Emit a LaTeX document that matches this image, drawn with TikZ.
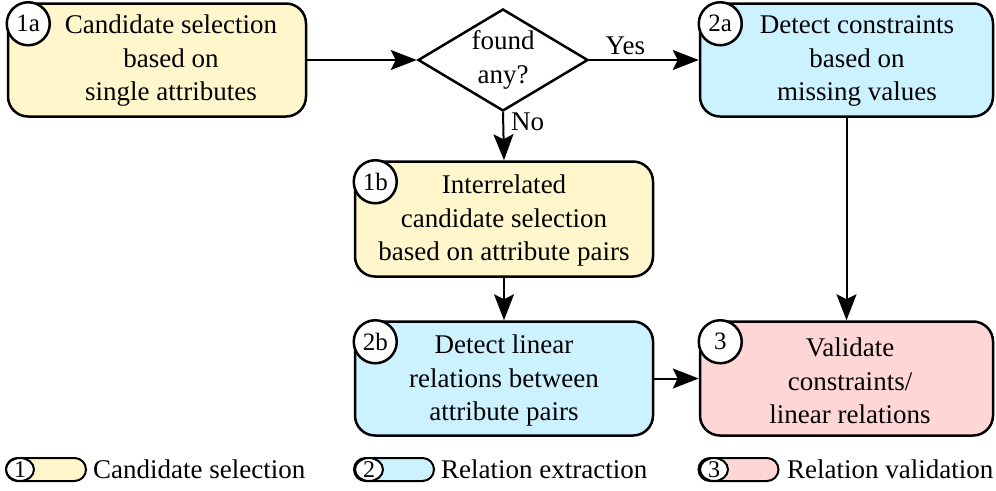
\documentclass[tikz,border=0pt]{standalone}
\usepackage{fontspec}
\setmainfont{Liberation Serif}
\usetikzlibrary{shapes.geometric,arrows.meta,calc}
\definecolor{selyellow}{RGB}{255,246,204}
\definecolor{extblue}{RGB}{204,242,255}
\definecolor{valred}{RGB}{255,214,214}
\begin{document}
\begin{tikzpicture}[x=1pt,y=-1pt,
  every node/.style={font=\fontsize{27}{33.5}\selectfont},
  stepbox/.style={draw, line width=2.5pt, rounded corners=20pt, inner sep=0pt},
  steptext/.style={align=center, inner sep=0pt},
  badge/.style={draw, circle, fill=white, line width=2.5pt, minimum size=43pt,
    inner sep=0pt, font=\fontsize{25}{30}\selectfont},
  flow/.style={line width=2pt, -{Stealth[length=26pt,width=20pt,inset=5pt]}},
  decision/.style={draw, diamond, line width=2.5pt, aspect=1.67,
    minimum width=170pt, minimum height=102pt, inner sep=0pt, align=center},
  flowlabel/.style={inner sep=1pt},
  pill/.style={draw, line width=2pt, rounded corners=11.5pt,
    minimum width=80pt, minimum height=23pt, inner sep=0pt},
  pilldot/.style={draw, ellipse, fill=white, line width=2pt,
    minimum width=28pt, minimum height=23pt, inner sep=0pt},
  pillnum/.style={inner sep=0pt, font=\fontsize{24}{28}\selectfont},
  legtext/.style={anchor=west, inner sep=0pt},
]
\useasboundingbox (0,0) rectangle (996,490);

% --- step boxes ---
\node[stepbox, fill=selyellow, minimum width=298pt, minimum height=113pt] (b1a) at (157,60) {};
\node[steptext] (t1a) at (171,61) {Candidate selection\\based on\\single attributes};
\node[badge] (k1a) at ($(b1a.north west)+(21.5,21.5)$) {1a};

\node[decision] (dec) at (503,60) {found\\any?};

\node[stepbox, fill=extblue, minimum width=293pt, minimum height=113pt] (b2a) at (846.5,60) {};
\node[steptext] (t2a) at (857,61) {Detect constraints\\based on\\missing values};
\node[badge] (k2a) at ($(b2a.north west)+(21.5,21.5)$) {2a};

\node[stepbox, fill=selyellow, minimum width=298pt, minimum height=115pt] (b1b) at (504,219) {};
\node[steptext] (t1b) at (504,221) {Interrelated\\candidate selection\\based on attribute pairs};
\node[badge] (k1b) at ($(b1b.north west)+(21.5,21.5)$) {1b};

\node[stepbox, fill=extblue, minimum width=298pt, minimum height=114pt] (b2b) at (504,378.5) {};
\node[steptext] (t2b) at (504,381) {Detect linear\\relations between\\attribute pairs};
\node[badge] (k2b) at ($(b2b.north west)+(21.5,21.5)$) {2b};

\node[stepbox, fill=valred, minimum width=293pt, minimum height=114pt] (b3) at (846.5,378.5) {};
\node[steptext] (t3) at (850,381) {Validate\\constraints/\\linear relations};
\node[badge] (k3) at ($(b3.north west)+(21.5,21.5)$) {3};

% --- connectors ---
\draw[flow] (b1a.east) -- (dec.west);
\draw[flow] (dec.east) -- node[flowlabel, pos=0.33, above=3pt] (lyes) {Yes} (b2a.west);
\draw[flow] (dec.south) -- node[flowlabel, pos=0.2, right=6pt] (lno) {No} (b1b.north);
\draw[flow] (b1b.south) -- (b2b.north);
\draw[flow] (b2b.east) -- (b3.west);
\draw[flow] (b2a.south) -- (b3.north);

% --- legend ---
\node[pill, fill=selyellow] (p1) at (46,469.5) {};
\node[pilldot] (d1) at (20,469.5) {};
\node[pillnum] (n1) at (d1) {1};
\node[legtext] (g1) at (93,469.5) {Candidate selection};

\node[pill, fill=extblue] (p2) at (394,469.5) {};
\node[pilldot] (d2) at (369,469.5) {};
\node[pillnum] (n2) at (d2) {2};
\node[legtext] (g2) at (441,469.5) {Relation extraction};

\node[pill, fill=valred] (p3) at (738.5,469.5) {};
\node[pilldot] (d3) at (714,469.5) {};
\node[pillnum] (n3) at (d3) {3};
\node[legtext] (g3) at (787,469.5) {Relation validation};
\end{tikzpicture}
\end{document}
